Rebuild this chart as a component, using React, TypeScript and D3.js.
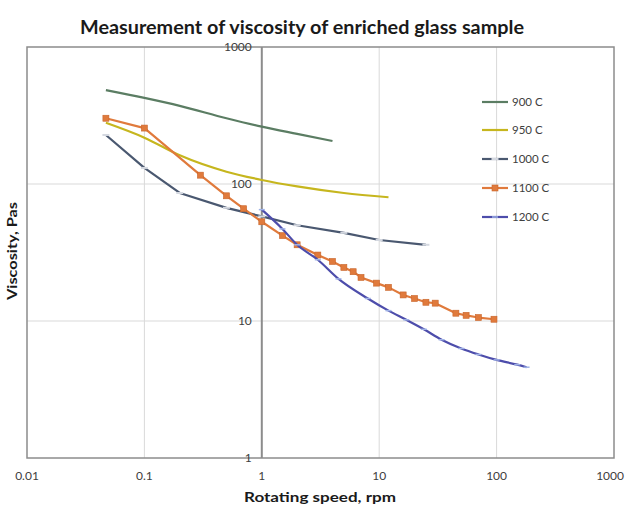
import * as d3 from "d3"

// rotating speed (rpm) and viscosity (Pa·s) per temperature
const speed900 = [0.047, 0.1, 0.2, 0.5, 1, 2, 4]
const visc900 = [485, 425, 372, 302, 262, 232, 206]

const speed950 = [0.047, 0.1, 0.2, 0.5, 1, 2, 5, 12]
const visc950 = [280, 218, 162, 123, 107, 96, 86, 80]

const speed1000 = [0.047, 0.1, 0.2, 0.5, 1, 2, 5, 10, 25]
const visc1000 = [228, 131, 86, 67, 58, 50, 44, 39, 36]

const speed1100 = [0.047, 0.1, 0.3, 0.5, 0.7, 1, 1.5, 2, 3, 4, 5, 6, 7, 9.5, 12, 16, 20, 25, 30, 45, 55, 70, 95]
const visc1100 = [302, 256, 116, 82, 66, 53, 42, 36, 30.3, 27.2, 24.6, 22.9, 20.8, 18.9, 17.6, 15.5, 14.6, 13.7, 13.5, 11.4, 11, 10.6, 10.3]

const speed1200 = [1, 1.5, 2, 3, 4.5, 8, 12, 17, 24, 34, 50, 70, 100, 150, 180]
const visc1200 = [65, 47, 36, 28, 20.3, 14.6, 11.9, 10.2, 8.7, 7.3, 6.3, 5.7, 5.2, 4.8, 4.6]

const xTicks = [0.01, 0.1, 1, 10, 100, 1000]
const xTickLabels = ["0.01", "0.1", "1", "10", "100", "1000"]
const yTicks = [1, 10, 100, 1000]
const yTickLabels = ["1", "10", "100", "1000"]

type Marker = "none" | "dash" | "square" | "tick"

const series = [
  { name: "900 C", xs: speed900, ys: visc900, color: "#5b7d63", marker: "none" as Marker, smooth: true },
  { name: "950 C", xs: speed950, ys: visc950, color: "#c6b61e", marker: "none" as Marker, smooth: true },
  { name: "1000 C", xs: speed1000, ys: visc1000, color: "#4a5870", marker: "dash" as Marker, smooth: false },
  { name: "1100 C", xs: speed1100, ys: visc1100, color: "#e07a3c", marker: "square" as Marker, smooth: false },
  { name: "1200 C", xs: speed1200, ys: visc1200, color: "#4d4dab", marker: "tick" as Marker, smooth: true },
]

const W = 626
const H = 510
const font = "Lato, 'Liberation Sans', sans-serif"
const textCol = "#404040"

function drawMarker(kind: Marker, cx: number, cy: number, color: string, key: string) {
  if (kind === "square")
    return <rect key={key} x={cx - 3} y={cy - 3} width={6} height={6} fill={color} stroke="#c8652b" strokeWidth={0.6} />
  if (kind === "dash")
    return <line key={key} x1={cx - 3.5} x2={cx + 3.5} y1={cy} y2={cy} stroke="#d4d8e0" strokeWidth={2} />
  if (kind === "tick")
    return <line key={key} x1={cx - 3} x2={cx + 3} y1={cy} y2={cy} stroke="#9fb2e6" strokeWidth={1.5} />
  return null
}

export default function App() {
  const x = d3.scaleLog().domain([0.01, 1000]).range([27, 614])
  const y = d3.scaleLog().domain([1, 1000]).range([458, 47])

  const legendY = [102, 130, 159, 188, 217]

  return (
    <svg
      width={W}
      height={H}
      style={{ position: "absolute", left: 0, top: 0, background: "#fff" }}
      fontFamily={font}
    >
      <text
        x={302}
        y={34}
        textAnchor="middle"
        fontSize={18}
        fontWeight="bold"
        fill="#1a1a1a"
        textLength={444}
        lengthAdjust="spacingAndGlyphs"
      >
        Measurement of viscosity of enriched glass sample
      </text>

      {/* grid */}
      {[0.1, 10, 100].map((t) => (
        <line key={"gx" + t} x1={x(t)} x2={x(t)} y1={y(1000)} y2={y(1)} stroke="#d9d9d9" strokeWidth={1} />
      ))}
      {[10, 100].map((t) => (
        <line key={"gy" + t} x1={x(0.01)} x2={x(1000)} y1={y(t)} y2={y(t)} stroke="#d9d9d9" strokeWidth={1} />
      ))}

      {/* plot border + axes */}
      <rect x={x(0.01)} y={y(1000)} width={x(1000) - x(0.01)} height={y(1) - y(1000)} fill="none" stroke="#8c8c8c" strokeWidth={1.5} />
      <line x1={x(1)} x2={x(1)} y1={y(1000)} y2={y(1)} stroke="#8c8c8c" strokeWidth={2} />

      {/* series */}
      {series.map((s) => {
        const pts = s.xs.map((v, i) => [x(v), y(s.ys[i])] as [number, number])
        const line = d3.line().curve(s.smooth ? d3.curveMonotoneX : d3.curveLinear)
        return (
          <g key={s.name}>
            <path d={line(pts) || ""} fill="none" stroke={s.color} strokeWidth={2.2} strokeLinejoin="round" />
            {pts.map((p, i) => drawMarker(s.marker, p[0], p[1], s.color, s.name + i))}
          </g>
        )
      })}

      {/* y tick labels */}
      {yTicks.map((t, i) => (
        <text key={"yl" + t} x={x(1) - 10} y={y(t) + 4} textAnchor="end" fontSize={12} fill={textCol}>
          {yTickLabels[i]}
        </text>
      ))}
      {/* x tick labels; the last one is kept inside the page edge */}
      {xTicks.map((t, i) => {
        const last = i === xTicks.length - 1
        return (
          <text
            key={"xl" + t}
            x={last ? W - 2 : x(t)}
            y={480}
            textAnchor={last ? "end" : "middle"}
            fontSize={12}
            fill={textCol}
          >
            {xTickLabels[i]}
          </text>
        )
      })}

      <text
        x={320}
        y={502}
        textAnchor="middle"
        fontSize={14}
        fontWeight="bold"
        fill="#1a1a1a"
        textLength={152}
        lengthAdjust="spacingAndGlyphs"
      >
        Rotating speed, rpm
      </text>
      <text
        transform={`translate(17,251) rotate(-90)`}
        textAnchor="middle"
        fontSize={14}
        fontWeight="bold"
        fill="#1a1a1a"
        textLength={98}
        lengthAdjust="spacingAndGlyphs"
      >
        Viscosity, Pas
      </text>

      {/* legend */}
      {series.map((s, i) => (
        <g key={"lg" + s.name}>
          <line x1={482} x2={508} y1={legendY[i]} y2={legendY[i]} stroke={s.color} strokeWidth={2.2} />
          {drawMarker(s.marker, 495, legendY[i], s.color, "lm" + i)}
          <text x={512} y={legendY[i] + 4} fontSize={11.5} fill={textCol}>
            {s.name}
          </text>
        </g>
      ))}
    </svg>
  )
}
